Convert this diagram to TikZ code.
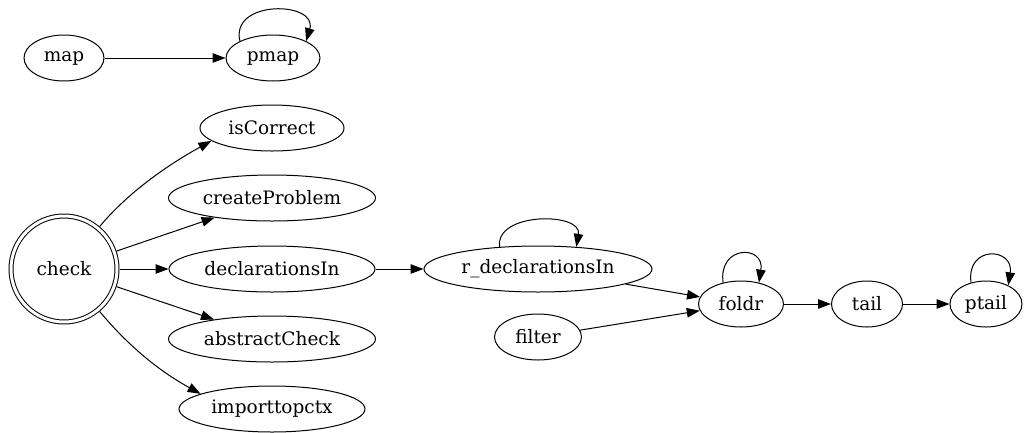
\documentclass[tikz,border=0pt]{standalone}
\usepackage{fontspec}
\setmainfont{DejaVu Serif}
\usepackage{tikz}
\usetikzlibrary{positioning,shapes,arrows.meta}

\begin{document}
\begin{tikzpicture}[x=1pt, y=1pt, line width=1pt, on grid,
    >={Triangle[length=13pt,width=9.5pt]},
    func/.style={shape=ellipse, draw=black, inner sep=0pt, minimum height=46pt,
        font=\fontsize{18.5}{22}\selectfont}]
    \useasboundingbox (0,0) rectangle (1027,-432);

    \node[func, minimum width=80pt] (map) at (64,-58) {\makebox[0pt]{map}};
    \node[func, minimum width=94pt, right=209pt of map] (pmap) {\makebox[0pt]{pmap}};

    \node[shape=circle, draw=black, double, double distance=3pt, minimum size=106pt,
        outer sep=2.5pt, font=\fontsize{18.5}{22}\selectfont] (check) at (64,-269) {check};
    \node[func, minimum width=206pt, right=208pt of check] (declIn) {\makebox[0pt]{declarationsIn}};
    \node[func, minimum width=207pt, above=71pt of declIn] (createProblem) {\makebox[0pt]{createProblem}};
    \node[func, minimum width=144pt, above=70pt of createProblem] (isCorrect) {\makebox[0pt]{isCorrect}};
    \node[func, minimum width=207pt, below=70pt of declIn] (absCheck) {\makebox[0pt]{abstractCheck}};
    \node[func, minimum width=186pt, below=70pt of absCheck] (importCtx) {\makebox[0pt]{importtopctx}};

    \node[func, minimum width=228pt, right=266pt of declIn] (rDeclIn) {\makebox[0pt]{r\_declarationsIn}};
    \node[func, minimum width=87pt, below=68pt of rDeclIn] (filter) {\makebox[0pt]{filter}};
    \node[func, minimum width=85pt, below right=35pt and 203pt of rDeclIn] (foldr) {\makebox[0pt]{foldr}};
    \node[func, minimum width=71pt, right=126pt of foldr] (tail) {\makebox[0pt]{tail}};
    \node[func, minimum width=72pt, right=119pt of tail] (ptail) {\makebox[0pt]{ptail}};

    \draw[->] (map) -- (pmap);
    \draw[->] (pmap.153) .. controls +(-10,42) and +(12,40) .. (pmap.27);

    \draw[->] (check.50) .. controls +(30,36) and +(-40,-22) .. (isCorrect.192);
    \draw[->] (check) -- (createProblem);
    \draw[->] (check) -- (declIn);
    \draw[->] (check) -- (absCheck);
    \draw[->] (check.-50) .. controls +(30,-36) and +(-40,22) .. (importCtx.168);

    \draw[->] (declIn) -- (rDeclIn);
    \draw[->] (rDeclIn.150) .. controls +(-5,35) and +(6,35) .. (rDeclIn.30);
    \draw[->] (rDeclIn) -- (foldr);
    \draw[->] (filter) -- (foldr);
    \draw[->] (foldr.130) .. controls +(-5,38) and +(6,38) .. (foldr.50);
    \draw[->] (foldr) -- (tail);
    \draw[->] (tail) -- (ptail);
    \draw[->] (ptail.125) .. controls +(-5,38) and +(6,38) .. (ptail.40);

\end{tikzpicture}
\end{document}
